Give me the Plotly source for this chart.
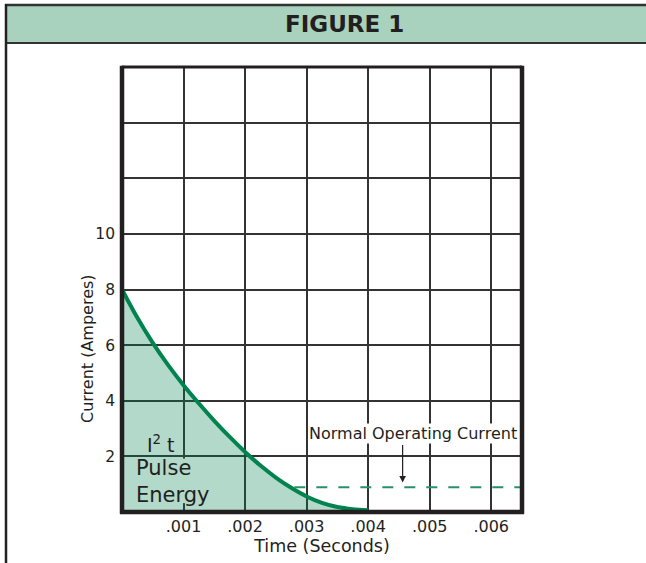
import plotly.graph_objects as go

# ---- data ----
time_s = [0, .00025, .0005, .00075, .001, .00125, .0015, .00175, .002,
          .00225, .0025, .00275, .003, .00325, .0035, .00375, .004]
current_a = [8.0, 6.98, 6.08, 5.28, 4.56, 3.90, 3.28, 2.70, 2.16,
             1.67, 1.24, 0.87, 0.56, 0.33, 0.18, 0.10, 0.06]
normal_time = [0.0028, 0.0065]
normal_current = [0.89, 0.89]

x_ticks = [.001, .002, .003, .004, .005, .006]
x_labels = [".001", ".002", ".003", ".004", ".005", ".006"]
y_ticks = [2, 4, 6, 8, 10]
y_labels = ["2", "4", "6", "8", "10"]

FONT = "DejaVu Sans, Verdana, sans-serif"
INK = "#231f20"
GREEN = "#00834f"
FILL_SOLID = "#b3d9c9"

fig = go.Figure()
fig.add_trace(go.Scatter(
    x=time_s, y=current_a, mode="lines",
    line=dict(color=GREEN, width=4, shape="spline", smoothing=1.0),
    fill="tozeroy", fillcolor="rgba(0,128,76,0.30)",
    hoverinfo="skip", showlegend=False))
fig.add_trace(go.Scatter(
    x=normal_time, y=normal_current, mode="lines",
    line=dict(color="#2a9166", width=2, dash="11px,11px"),
    hoverinfo="skip", showlegend=False))

# px -> paper helpers (plot area: x 122..522, y 67..512)
def px(xp):
    return (xp - 122) / 400.0

def py(yp):
    return (512 - yp) / 445.0

shapes = [
    # header band
    dict(type="rect", xref="paper", yref="paper", x0=px(6), x1=px(660),
         y0=py(43), y1=py(5), fillcolor="#a8d2be", line=dict(width=0), layer="below"),
    dict(type="line", xref="paper", yref="paper", x0=px(5), x1=px(660),
         y0=py(5), y1=py(5), line=dict(color="#333333", width=2.5)),
    dict(type="line", xref="paper", yref="paper", x0=px(5), x1=px(660),
         y0=py(43), y1=py(43), line=dict(color="#333333", width=2)),
    dict(type="line", xref="paper", yref="paper", x0=px(6), x1=px(6),
         y0=py(4), y1=py(580), line=dict(color="#222222", width=2.5)),
    # mask behind the "Pulse Energy" label (hides the grid line there)
    dict(type="rect", xref="x", yref="y", x0=0.00092, x1=0.00108, y0=0.32, y1=1.92,
         fillcolor=FILL_SOLID, line=dict(width=0), layer="above"),
    # plot frame
    dict(type="line", xref="paper", yref="paper", x0=0, x1=1, y0=1, y1=1,
         line=dict(color=INK, width=3)),
    dict(type="line", xref="paper", yref="paper", x0=0, x1=0, y0=-0.004, y1=1.003,
         line=dict(color=INK, width=4.5)),
    dict(type="line", xref="paper", yref="paper", x0=1, x1=1, y0=-0.004, y1=1.003,
         line=dict(color=INK, width=4.5)),
    dict(type="line", xref="paper", yref="paper", x0=-0.005, x1=1.005, y0=0, y1=0,
         line=dict(color=INK, width=4.5)),
]

annotations = [
    dict(text="<b>FIGURE 1</b>", xref="paper", yref="paper", x=px(344), y=py(24),
         xanchor="center", yanchor="middle", showarrow=False,
         font=dict(family="DejaVu Sans, Arial", size=23, color=INK)),
    dict(text="Current (Amperes)", xref="paper", yref="paper", x=px(87), y=py(349),
         xanchor="center", yanchor="middle", textangle=-90, showarrow=False,
         font=dict(family=FONT, size=16, color=INK)),
    dict(text="Normal Operating Current", x=0.00473, y=2.82, xanchor="center", yanchor="middle",
         showarrow=False, bgcolor="white", borderpad=0,
         font=dict(family=FONT, size=16, color=INK)),
    dict(text="", x=0.00456, y=1.06, ax=0.00456, ay=2.46, axref="x", ayref="y",
         showarrow=True, arrowhead=2, arrowsize=1.1, arrowwidth=1.2, arrowcolor=INK),
    dict(text="I<sup>2</sup> t", x=0.00063, y=2.45, xanchor="center", yanchor="middle",
         showarrow=False, font=dict(family=FONT, size=19, color=INK)),
    dict(text="Pulse<br>Energy", x=0.0002, y=1.08, xanchor="left", yanchor="middle",
         align="left", showarrow=False,
         font=dict(family=FONT, size=21, color=INK)),
]

fig.update_layout(
    width=646, height=563,
    margin=dict(l=122, r=124, t=67, b=51),
    paper_bgcolor="white", plot_bgcolor="white",
    shapes=shapes, annotations=annotations,
    font=dict(family=FONT, color=INK),
    xaxis=dict(range=[0, 0.0065], tickvals=x_ticks, ticktext=x_labels,
               showgrid=True, gridcolor="#333333", gridwidth=1.6, zeroline=False,
               showline=False, ticks="", tickfont=dict(size=16, color=INK),
               ticklabelstandoff=3,
               title=dict(text="Time (Seconds)", font=dict(size=17.5, color=INK), standoff=0),
               fixedrange=True),
    yaxis=dict(range=[0, 16], tickvals=y_ticks, ticktext=y_labels,
               showgrid=True, gridcolor="#333333", gridwidth=1.6, zeroline=False,
               showline=False, ticks="", tickfont=dict(size=15.5, color=INK),
               ticklabelstandoff=6,
               minor=dict(tick0=0, dtick=2, showgrid=True, gridcolor="#333333", gridwidth=1.6),
               fixedrange=True),
)

fig.write_html("out.html", config={"displayModeBar": False},
               post_script="document.body.style.margin='0px';")
